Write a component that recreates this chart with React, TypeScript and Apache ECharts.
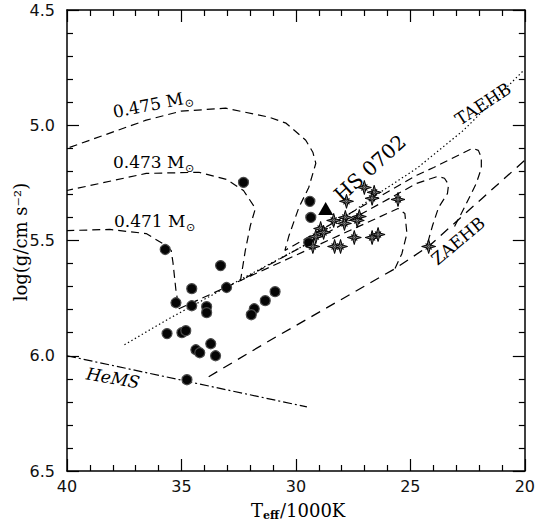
import React, { useEffect, useRef } from 'react';
import * as echarts from 'echarts';

// Evolutionary tracks [Teff/1000K, log g]
const track0475 = [
  [23.07, 5.439], [22.64, 5.357], [22.12, 5.252], [21.9, 5.187], [21.9, 5.139], [22.03, 5.109],
  [22.29, 5.1], [22.55, 5.113], [23.98, 5.183], [24.72, 5.217], [30.48, 5.543], [30.3, 5.478],
  [29.87, 5.357], [29.44, 5.27], [29.13, 5.165], [29.26, 5.117], [29.57, 5.065], [30.43, 4.991],
  [31.17, 4.965], [33.07, 4.926], [35.02, 4.939], [36.54, 4.978], [40, 5.1],
];
const track0473 = [
  [24.24, 5.509], [24.03, 5.435], [23.77, 5.357], [23.38, 5.296], [23.33, 5.257], [23.51, 5.23],
  [23.81, 5.222], [24.72, 5.252], [32.42, 5.674], [32.21, 5.543], [31.99, 5.435], [31.77, 5.361],
  [32.29, 5.283], [33.03, 5.235], [34.24, 5.204], [36.54, 5.209], [40, 5.283],
];
const track0471 = [
  [25.67, 5.622], [25.37, 5.557], [25.15, 5.47], [25.24, 5.383], [25.54, 5.361], [35.11, 5.796],
  [35.24, 5.717], [35.37, 5.596], [35.45, 5.543], [35.76, 5.517], [36.54, 5.47], [38.14, 5.452],
  [40, 5.457],
];
const taehb = [
  [37.49, 5.952], [35.54, 5.839], [32.51, 5.674], [29.48, 5.513], [26.32, 5.291], [24.72, 5.187],
  [22.68, 5.022], [20.04, 4.761],
];
const zaehb = [
  [33.81, 6.091], [31.3, 5.943], [25.67, 5.622], [24.16, 5.522], [21.82, 5.313], [20.0, 5.152],
];
const hems = [[40, 6.0], [29.52, 6.222]];

// Stars
const sdCircles = [
  [32.29, 5.248], [35.71, 5.539], [33.29, 5.609], [34.55, 5.709], [33.03, 5.704], [35.24, 5.77],
  [34.55, 5.783], [33.9, 5.787], [33.9, 5.813], [30.91, 5.722], [31.34, 5.761], [31.82, 5.796],
  [31.95, 5.822], [35.63, 5.904], [34.98, 5.9], [34.81, 5.891], [33.72, 5.948], [34.37, 5.974],
  [34.2, 5.987], [33.51, 6.0], [34.76, 6.104], [29.39, 5.33], [29.35, 5.4], [29.44, 5.509],
];
const sdStars = [
  [27.01, 5.27], [26.58, 5.291], [26.67, 5.317], [27.79, 5.33], [25.54, 5.322], [28.35, 5.413],
  [27.84, 5.4], [27.23, 5.396], [27.88, 5.426], [28.92, 5.448], [28.79, 5.465], [29.13, 5.483],
  [29.26, 5.526], [28.31, 5.526], [28.05, 5.526], [27.45, 5.487], [26.67, 5.487], [26.41, 5.474],
  [24.2, 5.526], [27.32, 5.413],
];
const hs0702 = [[28.7, 5.361]];

const xTicks = { min: 20, max: 40, interval: 5 };
const yTicks = { min: 4.5, max: 6.5, interval: 0.5 };

const SERIF = '"DejaVu Serif", "Liberation Serif", serif';
const SANS = '"DejaVu Sans", sans-serif';
const STAR = 'path://M0,-10L2.2,-2.2L10,0L2.2,2.2L0,10L-2.2,2.2L-10,0L-2.2,-2.2Z';

function txt(text: string, x: number, y: number, size: number, extra: any = {}) {
  return {
    type: 'text',
    x,
    y,
    style: {
      text,
      fontSize: size,
      fontFamily: SERIF,
      fill: '#000',
      align: 'left',
      textAlign: 'left',
      verticalAlign: 'middle',
      textVerticalAlign: 'middle',
      ...extra,
    },
  };
}

function massLabel(mass: string, x: number, y: number, rotDeg: number) {
  return {
    type: 'group',
    x,
    y,
    rotation: (rotDeg * Math.PI) / 180,
    children: [
      txt(mass + ' M', 0, 0, 17),
      txt('⊙', 72, 6, 11, { fontFamily: SANS }),
    ],
  };
}

function lineSeries(data: number[][], type: any, width = 1.2) {
  return {
    type: 'line',
    data,
    showSymbol: false,
    symbol: 'none',
    smooth: false,
    silent: true,
    z: 2,
    lineStyle: { color: '#000', width, type },
  };
}

export default function App() {
  const ref = useRef<HTMLDivElement>(null);
  useEffect(() => {
    const chart = echarts.init(ref.current!, null, { renderer: 'svg' });
    const axisBase: any = {
      type: 'value',
      axisLine: { show: true, onZero: false, lineStyle: { color: '#000', width: 1.5 } },
      axisTick: { show: true, inside: true, length: 12, lineStyle: { color: '#000', width: 1.2 } },
      minorTick: { show: true, splitNumber: 5, length: 6, lineStyle: { color: '#000', width: 1.2 } },
      splitLine: { show: false },
      minorSplitLine: { show: false },
    };
    chart.setOption({
      animation: false,
      backgroundColor: '#fff',
      grid: { left: 67, right: 9, top: 10, bottom: 54 },
      xAxis: [
        {
          ...axisBase,
          position: 'bottom',
          ...xTicks,
          inverse: true,
          axisLabel: { fontSize: 16, fontFamily: SANS, color: '#111', margin: 7, formatter: (v: number) => String(v) },
        },
        {
          ...axisBase,
          position: 'top',
          ...xTicks,
          inverse: true,
          axisLabel: { show: false },
        },
      ],
      yAxis: [
        {
          ...axisBase,
          position: 'left',
          ...yTicks,
          inverse: true,
          axisLabel: { fontSize: 16, fontFamily: SANS, color: '#111', margin: 12, formatter: (v: number) => v.toFixed(1) },
        },
        {
          ...axisBase,
          position: 'right',
          ...yTicks,
          inverse: true,
          axisLabel: { show: false },
        },
      ],
      series: [
        lineSeries(track0475, [8, 5]),
        lineSeries(track0473, [8, 5]),
        lineSeries(track0471, [8, 5]),
        lineSeries(taehb, [1.4, 2.6]),
        lineSeries(zaehb, [10, 7], 1.3),
        lineSeries(hems, [9, 3, 2, 3]),
        {
          type: 'scatter',
          data: sdCircles,
          symbol: 'circle',
          symbolSize: 10,
          z: 5,
          itemStyle: { color: '#050505', borderColor: '#4a4a4a', borderWidth: 1.2, opacity: 1 },
        },
        {
          type: 'scatter',
          data: sdStars,
          symbol: STAR,
          symbolSize: 14,
          z: 5,
          itemStyle: { color: '#7a7a7a', borderColor: '#000', borderWidth: 1, opacity: 1 },
        },
        {
          type: 'scatter',
          data: sdStars,
          symbol: STAR,
          symbolSize: 8,
          symbolRotate: 45,
          z: 6,
          itemStyle: { color: '#8a8a8a', borderColor: '#000', borderWidth: 0.8, opacity: 1 },
        },
        {
          type: 'scatter',
          data: hs0702,
          symbol: 'triangle',
          symbolSize: [15, 13],
          z: 7,
          itemStyle: { color: '#000', opacity: 1 },
        },
      ],
      graphic: [
        massLabel('0.475', 113, 112, 11),
        massLabel('0.473', 113, 162, 0),
        massLabel('0.471', 114, 221, 0),
        {
          type: 'group', x: 370, y: 168, rotation: (42 * Math.PI) / 180,
          children: [txt('HS 0702', 0, 0, 20, { align: 'center', textAlign: 'center' })],
        },
        {
          type: 'group', x: 483, y: 104, rotation: (33 * Math.PI) / 180,
          children: [txt('TAEHB', 0, 0, 17, { align: 'center', textAlign: 'center' })],
        },
        {
          type: 'group', x: 458, y: 241, rotation: (40 * Math.PI) / 180,
          children: [txt('ZAEHB', 0, 0, 17, { align: 'center', textAlign: 'center' })],
        },
        {
          type: 'group', x: 113, y: 378, rotation: (-10 * Math.PI) / 180,
          children: [txt('HeMS', 0, 0, 17, { align: 'center', textAlign: 'center', fontStyle: 'italic' })],
        },
        {
          type: 'group', x: 20, y: 242, rotation: Math.PI / 2,
          children: [txt('log(g/cm s⁻²)', 0, 0, 18, { align: 'center', textAlign: 'center' })],
        },
        {
          type: 'group', x: 251, y: 510,
          children: [
            txt('T', 0, 0, 18),
            txt('eff', 12, 5, 11, { fontWeight: 'bold' }),
            txt('/1000K', 29, 0, 18),
          ],
        },
      ],
    });
    return () => chart.dispose();
  }, []);
  return (
    <div
      ref={ref}
      style={{ position: 'absolute', left: 0, top: 0, width: 538, height: 525, background: '#fff' }}
    />
  );
}
